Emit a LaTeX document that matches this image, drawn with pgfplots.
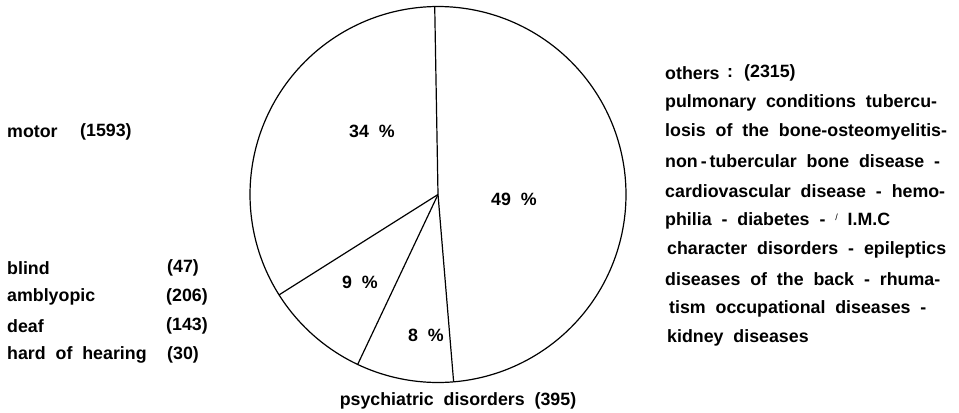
\documentclass[border=0pt]{standalone}
\usepackage{fontspec}
\setmainfont{Liberation Sans}[WordSpace=2.0]
\usepackage{pgfplots}
\usepackage{pgfplotstable}
\pgfplotsset{compat=1.18}
\pgfplotstableread{
group count
others 2315
psychiatric 395
sensory 426
motor 1593
}\pietable
\begin{document}
\bfseries\fontsize{17.8bp}{21bp}\selectfont
\begin{tikzpicture}[every node/.style={inner sep=0pt}]
\pgfplotstablegetelem{0}{count}\of\pietable \edef\vA{\pgfplotsretval}
\pgfplotstablegetelem{1}{count}\of\pietable \edef\vB{\pgfplotsretval}
\pgfplotstablegetelem{2}{count}\of\pietable \edef\vC{\pgfplotsretval}
\pgfplotstablegetelem{3}{count}\of\pietable \edef\vD{\pgfplotsretval}
\pgfmathsetmacro{\tot}{\vA+\vB+\vC+\vD}
\pgfmathsetmacro{\fA}{\vA/\tot}
\pgfmathsetmacro{\fB}{\vB/\tot}
\pgfmathsetmacro{\fC}{\vC/\tot}
\pgfmathsetmacro{\aA}{91}
\pgfmathsetmacro{\aB}{\aA-360*\fA}
\pgfmathsetmacro{\aC}{\aB-360*\fB}
\pgfmathsetmacro{\aD}{\aC-360*\fC}
\def\cx{438}\def\cy{194.5}\def\rad{188}
\pgfmathsetmacro{\xA}{\cx+\rad*cos(\aA)}\pgfmathsetmacro{\yA}{\cy-\rad*sin(\aA)}
\pgfmathsetmacro{\xB}{\cx+\rad*cos(\aB)}\pgfmathsetmacro{\yB}{\cy-\rad*sin(\aB)}
\pgfmathsetmacro{\xC}{\cx+\rad*cos(\aC)}\pgfmathsetmacro{\yC}{\cy-\rad*sin(\aC)}
\pgfmathsetmacro{\xD}{\cx+\rad*cos(\aD)}\pgfmathsetmacro{\yD}{\cy-\rad*sin(\aD)}
\begin{axis}[at={(0,0)}, anchor=south west, scale only axis,
  width=959bp, height=413bp, xmin=0, xmax=959, ymin=0, ymax=413,
  y dir=reverse, hide axis, clip=false]
\addplot[black, line width=1.2bp, domain=0:360, samples=241, variable=\t]
  ({\cx+\rad*cos(\t)},{\cy+\rad*sin(\t)});
\addplot[black, line width=1.2bp] coordinates {(\cx,\cy) (\xA,\yA)};
\addplot[black, line width=1.2bp] coordinates {(\cx,\cy) (\xB,\yB)};
\addplot[black, line width=1.2bp] coordinates {(\cx,\cy) (\xC,\yC)};
\addplot[black, line width=1.2bp] coordinates {(\cx,\cy) (\xD,\yD)};
% slice labels
\node at (axis cs:372,131) {34 \%};
\node at (axis cs:514,199) {49 \%};
\node at (axis cs:360,282) {9 \%};
\node at (axis cs:426,335) {8 \%};
\node at (axis cs:458,401) {psychiatric disorders (395)};
% left labels
\node[anchor=west] at (axis cs:7,132) {motor};
\node[anchor=west] at (axis cs:80,132) {(1593)};
\node[anchor=west] at (axis cs:7,268) {blind};
\node[anchor=west] at (axis cs:167,268) {(47)};
\node[anchor=west] at (axis cs:7,297) {amblyopic};
\node[anchor=west] at (axis cs:166,297) {(206)};
\node[anchor=west] at (axis cs:7,326) {deaf};
\node[anchor=west] at (axis cs:166,326) {(143)};
\node[anchor=west] at (axis cs:7,355) {hard of hearing};
\node[anchor=west] at (axis cs:167,355) {(30)};
% right block
\node[anchor=west] at (axis cs:665,73) {others};
\node[anchor=west] at (axis cs:727,73) {:};
\node[anchor=west] at (axis cs:744,73) {(2315)};
\node[anchor=west] at (axis cs:665,102.5) {pulmonary conditions tubercu-};
\node[anchor=west] at (axis cs:665,132) {losis of the bone-osteomyelitis-};
\node[anchor=west] at (axis cs:665,161.5) {non\,-\,tubercular bone disease -};
\node[anchor=west] at (axis cs:665,191) {cardiovascular disease - hemo-};
\node[anchor=west] at (axis cs:665,220.5) {philia - diabetes - {\fontsize{9bp}{9bp}\selectfont\mdseries\raisebox{5bp}{/}} I.M.C};
\node[anchor=west] at (axis cs:667,250) {character disorders - epileptics};
\node[anchor=west] at (axis cs:665,279.5) {diseases of the back - rhuma-};
\node[anchor=west] at (axis cs:669,309) {tism occupational diseases -};
\node[anchor=west] at (axis cs:667,338) {kidney diseases};
\end{axis}
\pgfresetboundingbox
\path[use as bounding box] (0,0) rectangle (959bp,413bp);
\end{tikzpicture}
\end{document}
